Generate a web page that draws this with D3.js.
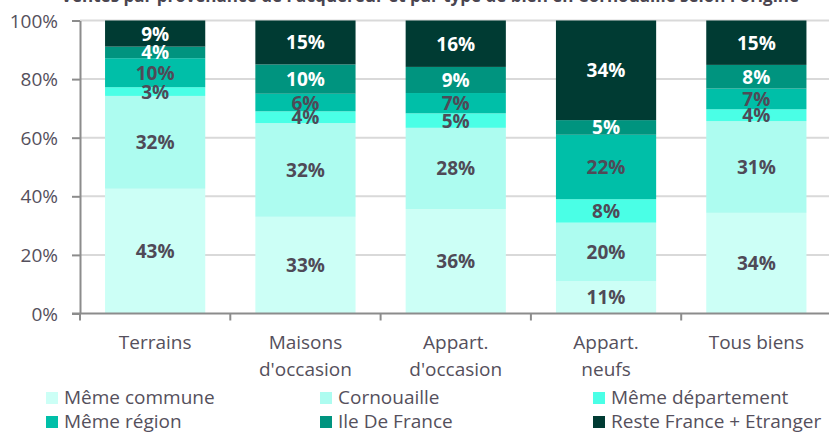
<!DOCTYPE html>
<html lang="fr">
<head>
<meta charset="UTF-8">
<title>Provenance des acquéreurs par type de bien</title>
<style>
    body { margin: 0; background: #fff; }
    svg { display: block; font-family: "Open Sans", sans-serif; }
    .grid line { stroke: #d9d9d9; stroke-width: 2; }
    .axis path, .axis line { stroke: #8c8c8c; stroke-width: 2; }
    .tick-label, .cat-label, .legend-label { fill: #55505c; }
    .value-label { font-weight: bold; }
</style>
</head>
<body>
<svg id="chart" width="829" height="433"></svg>
<script src="https://d3js.org/d3.v7.min.js"></script>
<script>
// categories (x axis), one entry per line of the label
var categories = ["Terrains", "Maisons d'occasion", "Appart. d'occasion", "Appart. neufs", "Tous biens"];
var categoryLines = [["Terrains"], ["Maisons", "d'occasion"], ["Appart.", "d'occasion"], ["Appart.", "neufs"], ["Tous biens"]];

// series, bottom to top
var series = ["Même commune", "Cornouaille", "Même département", "Même région", "Ile De France", "Reste France + Etranger"];
var memeCommune     = [43, 33, 36, 11, 34];
var cornouaille     = [32, 32, 28, 20, 31];
var memeDepartement = [3, 4, 5, 8, 4];
var memeRegion      = [10, 6, 7, 22, 7];
var ileDeFrance     = [4, 10, 9, 5, 8];
var resteFrance     = [9, 15, 16, 34, 15];

var yTicks = [0, 0.2, 0.4, 0.6, 0.8, 1];

var colors = ["#ccfff6", "#adfcf0", "#4affe6", "#00bfa8", "#00947f", "#003b33"];
var labelColors = ["#4f4a57", "#4f4a57", "#4f4a57", "#4f4a57", "#ffffff", "#ffffff"];

var seriesValues = [memeCommune, cornouaille, memeDepartement, memeRegion, ileDeFrance, resteFrance];
var table = categories.map(function(c, i) {
    var row = { category: c };
    series.forEach(function(s, j) { row[s] = seriesValues[j][i]; });
    return row;
});

var svg = d3.select('#chart');
var plotLeft = 80, plotRight = 831.5, plotTop = 20.5, plotBottom = 313.5;

var x = d3.scaleBand()
    .domain(categories)
    .range([plotLeft, plotRight])
    .paddingInner(1 / 3)
    .paddingOuter(1 / 6);

var y = d3.scaleLinear().domain([0, 1]).range([plotBottom, plotTop]);

var color = d3.scaleOrdinal().domain(series).range(colors);
var labelColor = d3.scaleOrdinal().domain(series).range(labelColors);

// title (cut off at the top of the picture)
svg.append('text')
    .attr('x', 430)
    .attr('y', 2)
    .attr('text-anchor', 'middle')
    .style('font-size', '17px')
    .style('font-weight', 'bold')
    .style('fill', '#4a4550')
    .text("Ventes par provenance de l'acquéreur et par type de bien en Cornouaille selon l'origine");

// gridlines
svg.append('g')
    .attr('class', 'grid')
    .selectAll('line')
    .data(yTicks.slice(1))
    .enter()
    .append('line')
    .attr('x1', plotLeft)
    .attr('x2', 829)
    .attr('y1', function(d) { return y(d); })
    .attr('y2', function(d) { return y(d); });

// stacked bars
var stacked = d3.stack().keys(series).offset(d3.stackOffsetExpand)(table);

var layers = svg.append('g')
    .selectAll('g')
    .data(stacked)
    .enter()
    .append('g')
    .attr('fill', function(d) { return color(d.key); });

layers.selectAll('rect')
    .data(function(d) { return d; })
    .enter()
    .append('rect')
    .attr('x', function(d) { return x(d.data.category); })
    .attr('y', function(d) { return y(d[1]); })
    .attr('width', x.bandwidth())
    .attr('height', function(d) { return y(d[0]) - y(d[1]); });

// value labels
stacked.forEach(function(layer) {
    svg.append('g')
        .selectAll('text')
        .data(layer)
        .enter()
        .append('text')
        .attr('class', 'value-label')
        .attr('x', function(d) { return x(d.data.category) + x.bandwidth() / 2; })
        .attr('y', function(d) { return (y(d[0]) + y(d[1])) / 2 + 7; })
        .attr('text-anchor', 'middle')
        .style('font-size', '19px')
        .style('fill', labelColor(layer.key))
        .text(function(d) { return d.data[layer.key] + '%'; });
});

// y axis
var yAxis = svg.append('g')
    .attr('class', 'axis')
    .attr('transform', 'translate(' + plotLeft + ',0)')
    .call(d3.axisLeft(y).tickValues(yTicks).tickSize(8).tickSizeOuter(0).tickFormat(d3.format('.0%')));
yAxis.selectAll('text')
    .attr('class', 'tick-label')
    .attr('x', -22)
    .attr('dy', '0.35em')
    .style('font-size', '19px')
    .style('font-family', '"Open Sans", sans-serif');

// x axis line with ticks on the category boundaries
var step = x.step();
var xAxis = svg.append('g').attr('class', 'axis');
xAxis.append('line')
    .attr('x1', plotLeft - 8)
    .attr('x2', 829)
    .attr('y1', plotBottom)
    .attr('y2', plotBottom);
xAxis.selectAll('.bound')
    .data(categories)
    .enter()
    .append('line')
    .attr('class', 'bound')
    .attr('x1', function(d) { return x(d) - step / 6; })
    .attr('x2', function(d) { return x(d) - step / 6; })
    .attr('y1', plotBottom)
    .attr('y2', plotBottom + 7);

// category labels
var cat = svg.append('g')
    .selectAll('text')
    .data(categories)
    .enter()
    .append('text')
    .attr('class', 'cat-label')
    .attr('text-anchor', 'middle')
    .attr('x', function(d) { return x(d) + x.bandwidth() / 2; })
    .attr('y', 349)
    .style('font-size', '19px');
cat.selectAll('tspan')
    .data(function(d, i) { return categoryLines[i]; })
    .enter()
    .append('tspan')
    .attr('x', function() { var c = this.parentNode.__data__; return x(c) + x.bandwidth() / 2; })
    .attr('dy', function(d, i) { return i === 0 ? 0 : 27; })
    .text(function(d) { return d; });

// legend, 3 columns x 2 rows
var legendX = [46, 320, 593];
var legendY = [392, 416];
var legend = svg.append('g')
    .selectAll('g')
    .data(series)
    .enter()
    .append('g')
    .attr('transform', function(d, i) {
        return 'translate(' + legendX[i % 3] + ',' + legendY[Math.floor(i / 3)] + ')';
    });
legend.append('rect')
    .attr('width', 12)
    .attr('height', 12)
    .attr('fill', function(d) { return color(d); });
legend.append('text')
    .attr('class', 'legend-label')
    .attr('x', 18)
    .attr('y', 12)
    .style('font-size', '19px')
    .text(function(d) { return d; });
</script>
</body>
</html>
